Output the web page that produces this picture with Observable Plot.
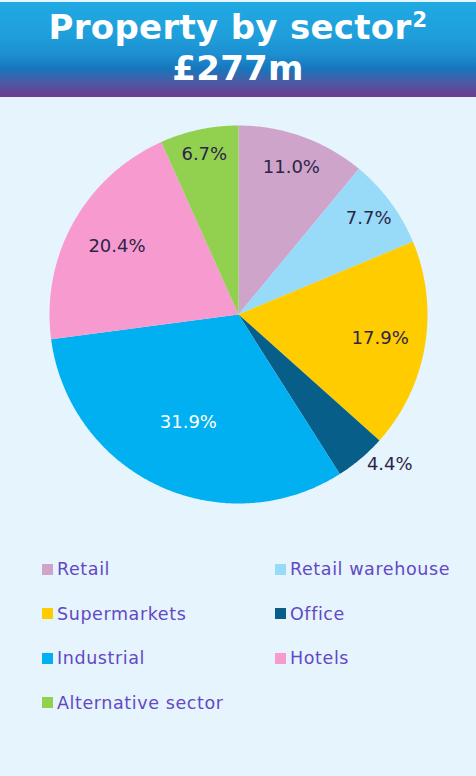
<!DOCTYPE html>
<html>
<head>
<meta charset="utf-8">
<script src="https://cdn.jsdelivr.net/npm/d3@7"></script>
<script src="https://cdn.jsdelivr.net/npm/@observablehq/plot@0.6"></script>
<style>
  html, body { margin: 0; padding: 0; }
  body { width: 476px; height: 776px; background: #e6f4fd; font-family: "DejaVu Sans", sans-serif; overflow: hidden; }
  #header {
    height: 95px; margin-top: 2px;
    background: linear-gradient(to bottom, #1fa9e2 0%, #1f9fdb 35%, #1d8fd0 55%, #1677bd 70%, #4a5ba6 84%, #6d3c8f 100%);
    color: #fff; text-align: center; font-weight: bold; font-size: 34px; line-height: 41px;
    padding-top: 5px; box-sizing: border-box; letter-spacing: 0.3px;
  }
  #header sup { font-size: 21px; position: relative; top: 3px; vertical-align: top; line-height: 1; margin-left: 1px; }
  #chart { height: 434px; }
  #legend { display: grid; grid-template-columns: 233px 200px; padding-left: 42px; margin-top: 16px; }
  .item { height: 44.5px; display: flex; align-items: center; color: #6348c6; font-size: 17.5px; letter-spacing: 0.6px; }
  .sw { width: 11px; height: 11px; margin-right: 4px; flex: none; }
</style>
</head>
<body>
<div id="header">Property by sector<sup>2</sup><br>£277m</div>
<div id="chart"></div>
<div id="legend"></div>
<script>
const sectors = ["Retail", "Retail warehouse", "Supermarkets", "Office", "Industrial", "Hotels", "Alternative sector"];
const shares = [11.0, 7.7, 17.9, 4.4, 31.9, 20.4, 6.7];
const colors = ["#cfa4ca", "#97dbf9", "#ffcc00", "#065e89", "#00b0f0", "#f79acf", "#92d050"];
const labelColors = ["#2c2548", "#2c2548", "#2c2548", "#2c2548", "#ffffff", "#2c2548", "#2c2548"];

const W = 476, H = 434, R = 189;
const data = sectors.map((s, i) => ({sector: s, share: shares[i], color: colors[i], labelColor: labelColors[i]}));
const arcs = d3.pie().sort(null).value(d => d.share)(data);

// Slice polygons in unit coordinates (angle 0 = top, clockwise)
function pt(a, r) { return [r * Math.sin(a), r * Math.cos(a)]; }
const features = arcs.map(a => {
  const n = Math.max(4, Math.ceil((a.endAngle - a.startAngle) / 0.01));
  const ring = [[0, 0]];
  for (let k = 0; k <= n; k++) ring.push(pt(a.startAngle + (a.endAngle - a.startAngle) * k / n, 1));
  ring.push([0, 0]);
  return {type: "Feature", properties: a.data, geometry: {type: "Polygon", coordinates: [ring]}};
});
// "best fit" style labels: small slices outside, larger slices pulled further in
const labels = arcs.map(a => {
  const mid = (a.startAngle + a.endAngle) / 2;
  const outside = a.data.share < 5;
  const r = outside ? 1.05 : 0.93 - 0.0095 * a.data.share;
  const [x, y] = pt(mid, r);
  return {x, y, text: a.data.share.toFixed(1) + "%", color: a.data.labelColor, anchor: outside ? "start" : "middle"};
});
const inside = labels.filter(d => d.anchor === "middle");
const outsideL = labels.filter(d => d.anchor === "start");
const hx = W / 2 / R, hy = H / 2 / R;
const frame = {type: "Polygon", coordinates: [[[-hx, -hy], [hx, -hy], [hx, hy], [-hx, hy], [-hx, -hy]]]};

const chart = Plot.plot({
  width: W, height: H, margin: 0,
  style: {background: "transparent", fontFamily: "DejaVu Sans, sans-serif"},
  projection: {type: "reflect-y", domain: frame, inset: 0},
  marks: [
    Plot.geo(features, {fill: d => d.properties.color, stroke: "none"}),
    Plot.text(inside, {x: "x", y: "y", text: "text", fill: d => d.color, fontSize: 18, textAnchor: "middle"}),
    Plot.text(outsideL, {x: "x", y: "y", text: "text", fill: d => d.color, fontSize: 18, textAnchor: "start", dy: -2})
  ]
});
document.getElementById("chart").appendChild(chart);

const legend = document.getElementById("legend");
sectors.forEach((s, i) => {
  const el = document.createElement("div");
  el.className = "item";
  el.innerHTML = `<span class="sw" style="background:${colors[i]}"></span><span>${s}</span>`;
  legend.appendChild(el);
});
</script>
</body>
</html>
